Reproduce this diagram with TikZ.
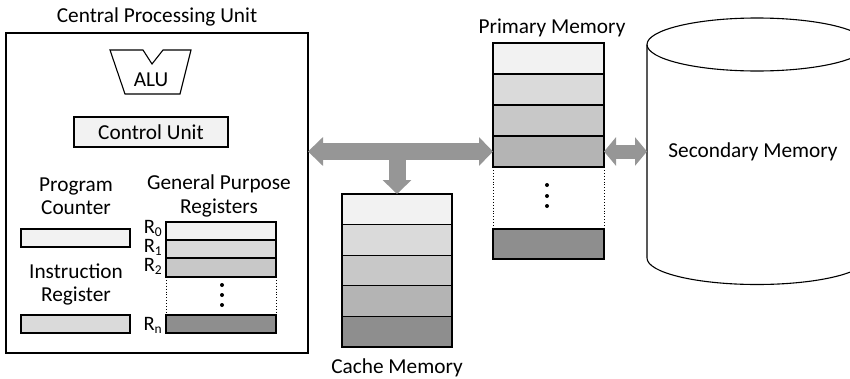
\documentclass[tikz,border=0pt]{standalone}
\usepackage{fontspec}
\setmainfont{Carlito}
\usetikzlibrary{arrows.meta,calc}
\definecolor{shA}{HTML}{F2F2F2}
\definecolor{shB}{HTML}{DADADA}
\definecolor{shC}{HTML}{C8C8C8}
\definecolor{shD}{HTML}{B4B4B4}
\definecolor{shE}{HTML}{8E8E8E}
\definecolor{busgray}{HTML}{969696}
% register name with a lowered index
\newcommand{\regname}[1]{R\raisebox{-3pt}{\fontsize{13.5}{14}\selectfont #1}}
\begin{document}
\begin{tikzpicture}[x=1pt,y=-1pt,
  font=\fontsize{21.3}{23.5}\selectfont,
  cell/.style={draw, line width=1.1pt, anchor=north west, inner sep=0pt, outer sep=0pt},
  gap/.style={anchor=north west, inner sep=0pt, outer sep=0pt},
  lbl/.style={inner sep=0pt, align=center},
  reglbl/.style={inner sep=0pt, anchor=base east, font=\fontsize{20.5}{22}\selectfont},
  dot/.style={circle, fill=black, inner sep=0pt, minimum size=4pt},
  bus/.style={draw=busgray, line width=17pt},
  link/.style={draw=busgray, line width=14pt}]
\useasboundingbox (0,0) rectangle (850,378);
\clip (0,0) rectangle (850,378);

% ---- CPU ----
\node[draw, line width=1.2pt, anchor=north west, minimum width=302pt, minimum height=320pt, inner sep=0pt, outer sep=0pt] (cpu) at (6,33) {};
\node[lbl] (cputitle) at (157,17) {Central Processing Unit};

% ALU
\draw[line width=1.1pt, line join=miter] (110,50) -- (143,50) -- (152,64) -- (163,50) -- (191,50) -- (180,94) -- (125,94) -- cycle;
\node[lbl] (alu) at (151,80) {ALU};

% control unit
\node[cell, fill=shA, minimum width=154pt, minimum height=30pt] (cu) at (74,117) {};
\node[lbl] at (cu.center) {Control Unit};

% program counter / instruction register
\node[lbl] (pclbl) at (76,196) {Program\\Counter};
\node[cell, fill=shA, minimum width=109pt, minimum height=18pt] (pc) at (21,229) {};
\node[lbl] (irlbl) at (76,284.5) {Instruction\\Register};
\node[cell, fill=shB, minimum width=109pt, minimum height=18pt] (ir) at (21,315) {};

% general purpose registers
\node[lbl] (gprlbl) at (219,196) {General Purpose\\Registers};
\node[cell, fill=shA, minimum width=110pt, minimum height=18pt] (r0) at (166,222) {};
\node[cell, fill=shB, minimum width=110pt, minimum height=18pt] (r1) at (166,240) {};
\node[cell, fill=shC, minimum width=110pt, minimum height=19pt] (r2) at (166,258) {};
\node[gap, minimum width=110pt, minimum height=38pt] (rgap) at (166,277) {};
\node[cell, fill=shE, minimum width=110pt, minimum height=18pt] (rn) at (166,315) {};
\draw[dotted, line width=0.9pt] (rgap.north west) -- (rgap.south west);
\draw[dotted, line width=0.9pt] (rgap.north east) -- (rgap.south east);
\node[dot] at (222,285) {};
\node[dot] at (222,295) {};
\node[dot] at (222,305) {};
\node[reglbl] (l0) at (162,233) {\regname{0}};
\node[reglbl] (l1) at (162,252) {\regname{1}};
\node[reglbl] (l2) at (162,271) {\regname{2}};
\node[reglbl] (ln) at (162,330) {\regname{n}};

% ---- cache memory ----
\node[cell, fill=shA, minimum width=110pt, minimum height=30.6pt] (c1) at (342,194) {};
\node[cell, fill=shB, minimum width=110pt, minimum height=30.6pt] (c2) at (342,224.6) {};
\node[cell, fill=shC, minimum width=110pt, minimum height=30.6pt] (c3) at (342,255.2) {};
\node[cell, fill=shD, minimum width=110pt, minimum height=30.6pt] (c4) at (342,285.8) {};
\node[cell, fill=shE, minimum width=110pt, minimum height=30.6pt] (c5) at (342,316.4) {};
\node[lbl] (cachelbl) at (397,368) {Cache Memory};

% ---- primary memory ----
\node[lbl] (pmlbl) at (552,28) {Primary Memory};
\node[cell, fill=shA, minimum width=111pt, minimum height=31pt] (p1) at (493,43) {};
\node[cell, fill=shB, minimum width=111pt, minimum height=31pt] (p2) at (493,74) {};
\node[cell, fill=shC, minimum width=111pt, minimum height=31pt] (p3) at (493,105) {};
\node[cell, fill=shD, minimum width=111pt, minimum height=31pt] (p4) at (493,136) {};
\node[gap, minimum width=111pt, minimum height=62pt] (pgap) at (493,167) {};
\node[cell, fill=shE, minimum width=111pt, minimum height=30pt] (p5) at (493,229) {};
\draw[dotted, line width=0.9pt] (pgap.north west) -- (pgap.south west);
\draw[dotted, line width=0.9pt] (pgap.north east) -- (pgap.south east);
\node[dot] at (547,185) {};
\node[dot] at (547,196) {};
\node[dot] at (547,206) {};

% ---- secondary memory (cylinder) ----
\draw[line width=1.1pt, fill=white] (757,44.5) ellipse [x radius=110pt, y radius=26.5pt];
\draw[line width=1.1pt] (647,44.5) -- (647,258)
  arc[start angle=180, end angle=360, x radius=110pt, y radius=26.5pt] -- (867,44.5);
\node[lbl] (sec) at (753,152) {Secondary Memory};
\coordinate (secin) at (647,151.5);

% ---- buses ----
\coordinate (busL) at (cpu.east |- p4.west);
\coordinate (busT) at (c1.north |- p4.west);
\draw[bus, -{Triangle[width=28pt,length=14pt]}] (busT) -- (c1.north);
\draw[bus, {Triangle[width=28pt,length=15pt]}-{Triangle[width=28pt,length=14pt]}] (busL) -- (p4.west);
\draw[link, {Triangle[width=28pt,length=12pt]}-{Triangle[width=28pt,length=12pt]}] (p4.east) -- (secin);
\end{tikzpicture}
\end{document}
